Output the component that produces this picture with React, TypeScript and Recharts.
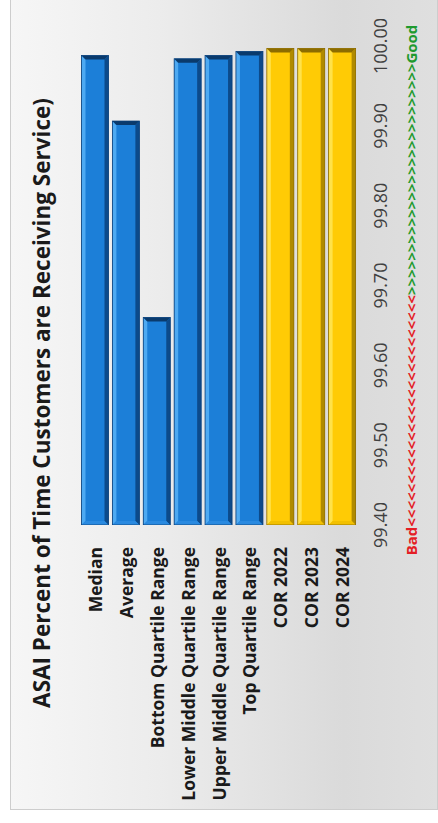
import React from "react";
import { BarChart, Bar, XAxis, YAxis } from "recharts";

const categories = [
  "Median",
  "Average",
  "Bottom Quartile Range",
  "Lower Middle Quartile Range",
  "Upper Middle Quartile Range",
  "Top Quartile Range",
  "COR 2022",
  "COR 2023",
  "COR 2024",
];
const asaiValues = [99.988, 99.906, 99.66, 99.984, 99.988, 99.993, 99.997, 99.997, 99.997];
const valueTicks = [99.4, 99.5, 99.6, 99.7, 99.8, 99.9, 100.0];

const chartTitle = "ASAI Percent of Time Customers are Receiving Service)";
const badText = "Bad";
const badArrows = "<".repeat(27);
const goodArrows = ">".repeat(27);
const goodText = "Good";

const data = categories.map((name, i) => ({ name, value: asaiValues[i] }));

const FONT = "'Open Sans', 'Noto Sans', sans-serif";

// chart is drawn lying on its side and turned -90deg afterwards
const W = 814;
const H = 428;

const blue = { face: "#1c7fd8", light: "#4eaaf2", dark: "#0c4a8a", end: "#0a3a6c", base: "#2a8ae0", line: "#0b3f78" };
const gold = { face: "#ffcb05", light: "#ffe24a", dark: "#b08a00", end: "#8c6c00", base: "#f2c000", line: "#8a6a00" };

function BevelBar(props: any) {
  const { x, y, width, height, payload } = props;
  if (!width || width <= 0) return null;
  const c = String(payload.name).startsWith("COR") ? gold : blue;
  const b = 4;
  const x2 = x + width;
  const y2 = y + height;
  return (
    <g>
      <rect x={x} y={y} width={width} height={height} fill={c.face} />
      <polygon points={`${x},${y} ${x2},${y} ${x2 - b},${y + b} ${x + b},${y + b}`} fill={c.light} />
      <polygon points={`${x},${y2} ${x2},${y2} ${x2 - b},${y2 - b} ${x + b},${y2 - b}`} fill={c.dark} />
      <polygon points={`${x2},${y} ${x2},${y2} ${x2 - b},${y2 - b} ${x2 - b},${y + b}`} fill={c.end} />
      <polygon points={`${x},${y} ${x},${y2} ${x + b},${y2 - b} ${x + b},${y + b}`} fill={c.base} />
      <rect x={x} y={y} width={width} height={height} fill="none" stroke={c.line} strokeWidth={0.8} />
    </g>
  );
}

function CategoryTick(props: any) {
  const { x, y, payload } = props;
  return (
    <text x={x} y={y} textAnchor="end" dominantBaseline="central" fontFamily={FONT} fontSize={17.5} fontWeight={700} fill="#1a1a1a">
      {payload.value}
    </text>
  );
}

function ValueTick(props: any) {
  const { x, y, payload } = props;
  return (
    <text x={x} y={y + 22.5} textAnchor="middle" dominantBaseline="central" fontFamily={FONT} fontSize={18} fill="#404040">
      {Number(payload.value).toFixed(2)}
    </text>
  );
}

function BadGoodLabel(props: any) {
  const { viewBox } = props;
  const cx = 520;
  const cy = viewBox.y + 53.5;
  return (
    <text x={cx} y={cy} textAnchor="middle" dominantBaseline="central" fontFamily={FONT} fontSize={15} fontWeight={700}>
      <tspan fill="#e41e26">{badText + badArrows}</tspan>
      <tspan fill="#1e9a2e">{goodArrows + goodText}</tspan>
    </text>
  );
}

export default function App() {
  return (
    <div
      style={{
        position: "absolute",
        left: 10,
        top: -4,
        width: H,
        height: W,
        boxSizing: "border-box",
        border: "1px solid #cdcdcd",
        background: "linear-gradient(to right, #f6f6f6 0%, #ececec 35%, #dadada 78%, #dfdfdf 100%)",
        overflow: "hidden",
      }}
    >
      <div
        style={{
          position: "absolute",
          left: -1,
          top: -1,
          width: W,
          height: H,
          transformOrigin: "0 0",
          transform: `translateY(${W}px) rotate(-90deg)`,
        }}
      >
        <div
          style={{
            position: "absolute",
            left: 0,
            top: 20,
            width: W,
            textAlign: "center",
            fontFamily: FONT,
            fontSize: 22.5,
            fontWeight: 700,
            lineHeight: "24px",
            color: "#1a1a1a",
            whiteSpace: "nowrap",
          }}
        >
          {chartTitle}
        </div>
        <BarChart
          width={W}
          height={H}
          data={data}
          layout="vertical"
          margin={{ top: 69.5, right: 50, bottom: 20.5, left: 0 }}
        >
          <XAxis
            type="number"
            dataKey="value"
            domain={[99.4, 100]}
            ticks={valueTicks}
            allowDataOverflow
            axisLine={false}
            tickLine={false}
            tickSize={0}
            tickMargin={0}
            height={60}
            tick={<ValueTick />}
            label={<BadGoodLabel />}
          />
          <YAxis
            type="category"
            dataKey="name"
            width={285}
            axisLine={false}
            tickLine={false}
            tickSize={0}
            tickMargin={22}
            interval={0}
            tick={<CategoryTick />}
          />
          <Bar dataKey="value" barSize={27} shape={<BevelBar />} isAnimationActive={false} />
        </BarChart>
      </div>
    </div>
  );
}
